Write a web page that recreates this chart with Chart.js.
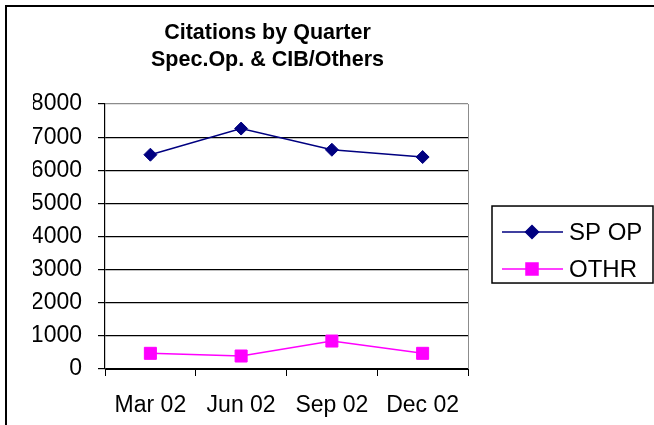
<!DOCTYPE html>
<html>
<head>
<meta charset="utf-8">
<script src="https://cdn.jsdelivr.net/npm/chart.js@4/dist/chart.umd.min.js"></script>
<style>
  html, body { margin: 0; padding: 0; background: #fff; }
  canvas { display: block; }
</style>
</head>
<body>
<canvas id="chart" width="654" height="425"></canvas>
<script>
// chart data
const quarters = ['Mar 02', 'Jun 02', 'Sep 02', 'Dec 02'];
const spOp = [6470, 7260, 6620, 6400];
const othr = [473, 392, 844, 473];
const yTicks = [0, 1000, 2000, 3000, 4000, 5000, 6000, 7000, 8000];
const titleLines = ['Citations by Quarter', 'Spec.Op. & CIB/Others'];

const FONT = "'Liberation Sans', Arial, sans-serif";

// outer frame (only top/left edges are visible in the picture)
const framePlugin = {
  id: 'frame',
  beforeDraw(chart) {
    const { ctx, width, height } = chart;
    ctx.save();
    ctx.strokeStyle = '#000';
    ctx.lineWidth = 2;
    ctx.beginPath();
    ctx.moveTo(6, height + 5);
    ctx.lineTo(6, 6);
    ctx.lineTo(width + 5, 6);
    ctx.stroke();
    ctx.restore();
  }
};

// gray plot-area edge on the right
const plotEdgePlugin = {
  id: 'plotEdge',
  beforeDatasetsDraw(chart) {
    const { ctx, chartArea } = chart;
    ctx.save();
    ctx.strokeStyle = '#8c8c8c';
    ctx.lineWidth = 1;
    ctx.beginPath();
    ctx.moveTo(chartArea.right + 0.5, chartArea.top);
    ctx.lineTo(chartArea.right + 0.5, chartArea.bottom);
    ctx.stroke();
    ctx.restore();
  }
};

// boxed legend with line + marker samples
const boxLegendPlugin = {
  id: 'boxLegend',
  afterDraw(chart) {
    const { ctx, chartArea } = chart;
    const x0 = chartArea.right + 24;
    const w = 161, h = 77;
    const cy = (chartArea.top + chartArea.bottom) / 2 + 8;
    const y0 = cy - h / 2;
    ctx.save();
    ctx.strokeStyle = '#000';
    ctx.lineWidth = 1.5;
    ctx.strokeRect(x0, y0, w, h);
    ctx.font = '24px ' + FONT;
    ctx.textBaseline = 'middle';
    ctx.textAlign = 'left';
    chart.data.datasets.forEach((ds, i) => {
      const y = y0 + 26 + i * 37;
      ctx.strokeStyle = ds.borderColor;
      ctx.lineWidth = ds.borderWidth;
      ctx.beginPath();
      ctx.moveTo(x0 + 10, y);
      ctx.lineTo(x0 + 71, y);
      ctx.stroke();
      ctx.fillStyle = ds.pointBackgroundColor;
      ctx.strokeStyle = ds.pointBorderColor;
      Chart.helpers.drawPoint(ctx, {
        pointStyle: ds.pointStyle, radius: ds.pointRadius,
        rotation: 0, borderWidth: ds.pointBorderWidth
      }, x0 + 40, y);
      ctx.fillStyle = '#000';
      ctx.fillText(ds.label, x0 + 77, y + 1);
    });
    ctx.restore();
  }
};

new Chart(document.getElementById('chart'), {
  type: 'line',
  data: {
    labels: quarters,
    datasets: [
      {
        label: 'SP OP',
        data: spOp,
        borderColor: '#000080',
        backgroundColor: '#000080',
        borderWidth: 1.5,
        pointStyle: 'rectRot',
        pointRadius: 6.5,
        pointBackgroundColor: '#000080',
        pointBorderColor: '#000080',
        pointBorderWidth: 1,
        tension: 0
      },
      {
        label: 'OTHR',
        data: othr,
        borderColor: '#ff00ff',
        backgroundColor: '#ff00ff',
        borderWidth: 1.5,
        pointStyle: 'rect',
        pointRadius: 8.5,
        pointBackgroundColor: '#ff00ff',
        pointBorderColor: '#ff00ff',
        pointBorderWidth: 1,
        tension: 0
      }
    ]
  },
  options: {
    responsive: false,
    animation: false,
    devicePixelRatio: 1,
    layout: { padding: { left: 33, right: 152, top: 0, bottom: 0 } },
    plugins: {
      legend: { display: false },
      tooltip: { enabled: false },
      title: {
        display: true,
        text: titleLines,
        color: '#000',
        font: { family: FONT, size: 21.5, weight: 'bold', lineHeight: 1.28 },
        padding: { top: 19, bottom: 30 }
      }
    },
    scales: {
      x: {
        offset: true,
        afterFit(scale) { scale.height = 56; },
        grid: {
          offset: true,
          drawOnChartArea: false,
          drawTicks: true,
          tickLength: 7,
          color: '#000'
        },
        border: { display: true, color: '#000', width: 1 },
        ticks: {
          color: '#000',
          padding: 16,
          maxRotation: 0,
          font: { family: FONT, size: 23 }
        }
      },
      y: {
        min: 0,
        max: 8000,
        afterBuildTicks(scale) {
          scale.ticks = yTicks.map(v => ({ value: v }));
        },
        afterFit(scale) { scale.width = 72; },
        grid: {
          color: ctx => (ctx.tick && ctx.tick.value === 8000 ? '#8c8c8c' : '#000'),
          tickColor: '#000',
          tickLength: 7,
          lineWidth: 1.2
        },
        border: { display: true, color: '#000', width: 1.2 },
        ticks: {
          color: '#000',
          padding: 16,
          font: { family: FONT, size: 23 },
          callback: v => String(v)
        }
      },
      // empty right-hand axis, only reserves room so the title centres like the original
      spacer: {
        type: 'linear',
        position: 'right',
        display: true,
        afterFit(scale) { scale.width = 34; },
        grid: { display: false, drawTicks: false },
        border: { display: false },
        ticks: { display: false }
      }
    }
  },
  plugins: [framePlugin, plotEdgePlugin, boxLegendPlugin]
});
</script>
</body>
</html>
